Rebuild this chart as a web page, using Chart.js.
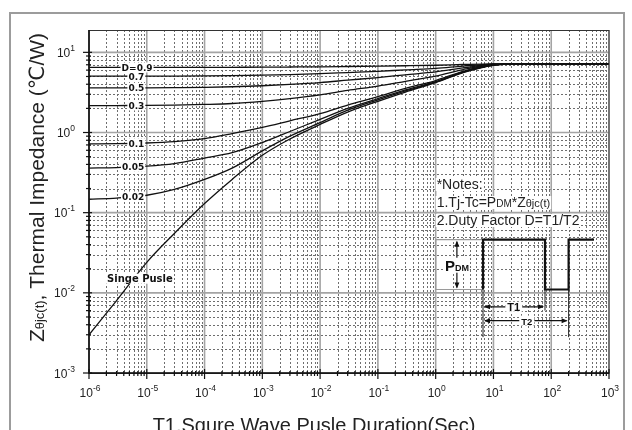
<!DOCTYPE html>
<html>
<head>
<meta charset="utf-8">
<script src="https://cdn.jsdelivr.net/npm/chart.js@4.4.0/dist/chart.umd.min.js"></script>
<style>
  html, body { margin: 0; padding: 0; background: #fff; }
  canvas { display: block; }
</style>
</head>
<body>
<canvas id="chart" width="632" height="430"></canvas>
<script>
// Pulse durations T1 (s)
const pulseTimes = [1e-6, 3e-6, 1e-5, 3e-5, 1e-4, 3e-4, 1e-3, 3e-3, 1e-2, 3e-2, 1e-1, 3e-1, 1, 3, 10, 30, 100, 1000];

// Zθjc(t), one array per duty factor
const zD09    = [6.48, 6.48, 6.48, 6.49, 6.49, 6.51, 6.53, 6.56, 6.60, 6.66, 6.73, 6.80, 6.90, 7.05, 7.18, 7.2, 7.2, 7.2];
const zD07    = [5.04, 5.04, 5.05, 5.06, 5.08, 5.12, 5.19, 5.28, 5.42, 5.60, 5.80, 6.05, 6.30, 6.75, 7.15, 7.2, 7.2, 7.2];
const zD05    = [3.60, 3.60, 3.61, 3.63, 3.66, 3.72, 3.83, 3.98, 4.20, 4.50, 4.85, 5.25, 5.70, 6.40, 7.10, 7.2, 7.2, 7.2];
const zD03    = [2.16, 2.17, 2.18, 2.20, 2.24, 2.30, 2.45, 2.65, 2.95, 3.35, 3.80, 4.35, 5.05, 6.10, 7.05, 7.2, 7.2, 7.2];
const zD01    = [0.72, 0.725, 0.74, 0.77, 0.84, 0.97, 1.16, 1.40, 1.72, 2.20, 2.80, 3.55, 4.45, 5.80, 7.00, 7.2, 7.2, 7.2];
const zD005   = [0.36, 0.365, 0.38, 0.41, 0.48, 0.56, 0.75, 1.03, 1.46, 2.00, 2.65, 3.40, 4.30, 5.70, 6.95, 7.2, 7.2, 7.2];
const zD002   = [0.147, 0.152, 0.165, 0.195, 0.26, 0.36, 0.59, 0.90, 1.33, 1.90, 2.55, 3.30, 4.25, 5.65, 6.95, 7.2, 7.2, 7.2];
const zSingle = [0.003, 0.008, 0.024, 0.055, 0.13, 0.26, 0.52, 0.83, 1.26, 1.80, 2.45, 3.20, 4.20, 5.60, 6.90, 7.2, 7.2, 7.2];

const curves = [zD09, zD07, zD05, zD03, zD01, zD005, zD002, zSingle];
const curveLabels = ['D=0.9', '0.7', '0.5', '0.3', '0.1', '0.05', '0.02', 'Singe Pusle'];
const labelTimes = [6.8e-6, 6.6e-6, 6.6e-6, 6.6e-6, 6.6e-6, 5.8e-6, 5.8e-6, 7.6e-6];

// axis decades (exponents of ten)
const xDecades = [-6, -5, -4, -3, -2, -1, 0, 1, 2, 3];
const yDecades = [-3, -2, -1, 0, 1];

// duty-cycle sketch, in chart units
const waveTimes = [1, 6.6, 78, 200, 550];
const waveTop = 0.046, waveBottom = 0.011;

const SANS = '"Liberation Sans", Arial, "DejaVu Sans", sans-serif';
const BOLD = '"DejaVu Sans", sans-serif';

// value of a curve at time t, log-log interpolated (used to place labels)
function curveAt(arr, t) {
  const lt = Math.log10(t);
  for (let i = 0; i < pulseTimes.length - 1; i++) {
    const a = Math.log10(pulseTimes[i]), b = Math.log10(pulseTimes[i + 1]);
    if (lt >= a && lt <= b) {
      const f = (lt - a) / (b - a);
      return Math.pow(10, Math.log10(arr[i]) + f * (Math.log10(arr[i + 1]) - Math.log10(arr[i])));
    }
  }
  return arr[0];
}

function runsWidth(ctx, runs) {
  let w = 0;
  runs.forEach(r => { ctx.font = r[1]; w += ctx.measureText(r[0]).width; });
  return w;
}

function drawRuns(ctx, runs, x, y, align) {
  const w = runsWidth(ctx, runs);
  let sx = align === 'center' ? x - w / 2 : align === 'right' ? x - w : x;
  runs.forEach(r => {
    ctx.font = r[1];
    ctx.fillText(r[0], sx, y + (r[2] || 0));
    sx += ctx.measureText(r[0]).width;
  });
  return w;
}

function whiteBox(ctx, x, y, w, h) {
  ctx.save();
  ctx.fillStyle = '#fff';
  ctx.fillRect(x, y, w, h);
  ctx.restore();
}

function arrowHead(ctx, x, y, dx, dy) {
  const len = 6, half = 2.5;
  const nx = -dy, ny = dx;
  ctx.beginPath();
  ctx.moveTo(x, y);
  ctx.lineTo(x - dx * len + nx * half, y - dy * len + ny * half);
  ctx.lineTo(x - dx * len - nx * half, y - dy * len - ny * half);
  ctx.closePath();
  ctx.fill();
}

function drawGrid(chart) {
  const { ctx, chartArea: a, scales: { x, y } } = chart;
  ctx.save();
  ctx.lineWidth = 1;
  ctx.strokeStyle = '#6e6e6e';
  ctx.setLineDash([2, 2]);
  xDecades.slice(0, -1).forEach(d => {
    for (let m = 2; m <= 9; m++) {
      const px = Math.round(x.getPixelForValue(m * Math.pow(10, d))) + 0.5;
      ctx.beginPath(); ctx.moveTo(px, a.top); ctx.lineTo(px, a.bottom); ctx.stroke();
    }
  });
  yDecades.forEach(d => {
    for (let m = 2; m <= 9; m++) {
      const v = m * Math.pow(10, d);
      if (v >= y.max) continue;
      const py = Math.round(y.getPixelForValue(v)) + 0.5;
      ctx.beginPath(); ctx.moveTo(a.left, py); ctx.lineTo(a.right, py); ctx.stroke();
    }
  });
  ctx.setLineDash([]);
  ctx.strokeStyle = '#a4a4a4';
  ctx.lineWidth = 1.6;
  xDecades.forEach(d => {
    const px = x.getPixelForValue(Math.pow(10, d));
    ctx.beginPath(); ctx.moveTo(px, a.top); ctx.lineTo(px, a.bottom); ctx.stroke();
  });
  yDecades.forEach(d => {
    const py = y.getPixelForValue(Math.pow(10, d));
    ctx.beginPath(); ctx.moveTo(a.left, py); ctx.lineTo(a.right, py); ctx.stroke();
  });
  ctx.restore();
}

function drawAxes(chart) {
  const { ctx, chartArea: a, scales: { x, y } } = chart;
  ctx.save();
  ctx.strokeStyle = '#333';
  ctx.lineWidth = 1;
  ctx.strokeRect(a.left, a.top + 0.5, a.right - a.left, a.bottom - a.top);
  ctx.strokeStyle = '#111';
  ctx.lineWidth = 1.5;
  ctx.beginPath();
  ctx.moveTo(a.left, a.top); ctx.lineTo(a.left, a.bottom); ctx.lineTo(a.right, a.bottom);
  ctx.stroke();

  // tick marks
  ctx.lineWidth = 1.2;
  xDecades.forEach((d, i) => {
    const px = x.getPixelForValue(Math.pow(10, d));
    ctx.beginPath(); ctx.moveTo(px, a.bottom - 4); ctx.lineTo(px, a.bottom + 6); ctx.stroke();
    if (i === xDecades.length - 1) return;
    for (let m = 2; m <= 9; m++) {
      const mx = x.getPixelForValue(m * Math.pow(10, d));
      ctx.beginPath(); ctx.moveTo(mx, a.bottom - 2); ctx.lineTo(mx, a.bottom + 3); ctx.stroke();
    }
  });
  yDecades.forEach(d => {
    const py = y.getPixelForValue(Math.pow(10, d));
    ctx.beginPath(); ctx.moveTo(a.left - 6, py); ctx.lineTo(a.left + 3, py); ctx.stroke();
    for (let m = 2; m <= 9; m++) {
      const v = m * Math.pow(10, d);
      if (v >= y.max) continue;
      const my = y.getPixelForValue(v);
      ctx.beginPath(); ctx.moveTo(a.left - 3, my); ctx.lineTo(a.left + 2, my); ctx.stroke();
    }
  });

  // tick labels 10^n
  ctx.fillStyle = '#222';
  ctx.textBaseline = 'alphabetic';
  const big = '12px ' + SANS, small = '8.5px ' + SANS;
  xDecades.forEach(d => {
    const px = x.getPixelForValue(Math.pow(10, d));
    drawRuns(ctx, [['10', big], [String(d), small, -6]], px + 1, a.bottom + 24, 'center');
  });
  yDecades.forEach(d => {
    const py = y.getPixelForValue(Math.pow(10, d));
    drawRuns(ctx, [['10', big], [String(d), small, -6]], a.left - 14, py + 4.5, 'right');
  });
  ctx.restore();
}

function drawCurveLabels(chart) {
  const { ctx, scales: { x, y } } = chart;
  ctx.save();
  ctx.textBaseline = 'alphabetic';
  curves.forEach((arr, i) => {
    const t = labelTimes[i];
    const single = i === curves.length - 1;
    const z = single ? 0.015 : curveAt(arr, t);
    const px = x.getPixelForValue(t), py = y.getPixelForValue(z);
    const font = 'bold ' + (single ? '10px ' : '9px ') + BOLD;
    ctx.font = font;
    const w = ctx.measureText(curveLabels[i]).width;
    whiteBox(ctx, px - w / 2 - 1, py - 5, w + 2, 10);
    ctx.fillStyle = '#111';
    ctx.fillText(curveLabels[i], px - w / 2, py + 3.5);
  });
  ctx.restore();
}

function drawNotes(chart) {
  const { ctx, scales: { x } } = chart;
  const left = x.getPixelForValue(1) + 1;
  const f = '14px ' + SANS, s = '10px ' + SANS, s2 = '11px ' + SANS;
  const lines = [
    [['*Notes:', f]],
    [['1.Tj-Tc=P', f], ['DM', s], ['*Z', f], ['\u03b8jc(t)', s2]],
    [['2.Duty Factor D=T1/T2', f]]
  ];
  const baselines = [189, 207, 225];
  ctx.save();
  ctx.textBaseline = 'alphabetic';
  lines.forEach((runs, i) => {
    const w = runsWidth(ctx, runs);
    whiteBox(ctx, left - 1, baselines[i] - 11, w + 2, 13);
    ctx.fillStyle = '#222';
    drawRuns(ctx, runs, left, baselines[i], 'left');
  });
  ctx.restore();
}

function drawPulse(chart) {
  const { ctx, scales: { x, y } } = chart;
  const [x0, xa, xb, xc, xd] = waveTimes.map(t => x.getPixelForValue(t));
  const yt = y.getPixelForValue(waveTop), yb = y.getPixelForValue(waveBottom);
  ctx.save();
  // thin gray outline of the off period
  ctx.strokeStyle = '#9a9a9a';
  ctx.lineWidth = 1.2;
  ctx.beginPath();
  ctx.moveTo(xa, yt); ctx.lineTo(x0, yt); ctx.lineTo(x0, yb); ctx.lineTo(xa, yb);
  ctx.stroke();
  // extension lines
  ctx.strokeStyle = '#222';
  ctx.lineWidth = 1;
  const yLow = y.getPixelForValue(0.0028), yMid = y.getPixelForValue(0.006);
  [[xa, yLow], [xb, yMid], [xc, yLow]].forEach(([px, py]) => {
    ctx.beginPath(); ctx.moveTo(px, yb); ctx.lineTo(px, py); ctx.stroke();
  });
  // the square wave
  ctx.strokeStyle = '#111';
  ctx.lineWidth = 2.2;
  ctx.beginPath();
  ctx.moveTo(xa, yb); ctx.lineTo(xa, yt); ctx.lineTo(xb, yt); ctx.lineTo(xb, yb);
  ctx.lineTo(xc, yb); ctx.lineTo(xc, yt); ctx.lineTo(xd, yt);
  ctx.stroke();

  ctx.fillStyle = '#111';
  ctx.lineWidth = 1.2;
  // PDM arrow
  const xp = x.getPixelForValue(2.33);
  ctx.beginPath(); ctx.moveTo(xp, yt + 2); ctx.lineTo(xp, yb - 2); ctx.stroke();
  arrowHead(ctx, xp, yt + 1, 0, -1);
  arrowHead(ctx, xp, yb - 1, 0, 1);
  // T1 / T2 arrows
  const y1 = y.getPixelForValue(0.0067), y2 = y.getPixelForValue(0.0045);
  ctx.beginPath(); ctx.moveTo(xa + 2, y1); ctx.lineTo(xb - 2, y1); ctx.stroke();
  arrowHead(ctx, xa + 1, y1, -1, 0); arrowHead(ctx, xb - 1, y1, 1, 0);
  ctx.beginPath(); ctx.moveTo(xa + 2, y2); ctx.lineTo(xc - 2, y2); ctx.stroke();
  arrowHead(ctx, xa + 1, y2, -1, 0); arrowHead(ctx, xc - 1, y2, 1, 0);

  // labels
  ctx.textBaseline = 'alphabetic';
  const yPdm = y.getPixelForValue(0.0218);
  const pdm = [['P', 'bold 15px ' + SANS], ['DM', 'bold 9px ' + SANS]];
  const wp = runsWidth(ctx, pdm);
  whiteBox(ctx, xp - wp / 2 - 1, yPdm - 8, wp + 2, 15);
  ctx.fillStyle = '#111';
  drawRuns(ctx, pdm, xp, yPdm + 5.5, 'center');

  const labs = [['T1', 'bold 11px ' + SANS, 22.5, y1], ['T2', 'bold 9.5px ' + SANS, 37.8, y2]];
  labs.forEach(([txt, font, t, py]) => {
    const px = x.getPixelForValue(t);
    ctx.font = font;
    const w = ctx.measureText(txt).width;
    whiteBox(ctx, px - w / 2 - 2, py - 5, w + 4, 10);
    ctx.fillStyle = '#111';
    ctx.fillText(txt, px - w / 2, py + 4);
  });
  ctx.restore();
}

function drawTitles(chart) {
  const { ctx, chartArea: a } = chart;
  ctx.save();
  ctx.fillStyle = '#222';
  ctx.textBaseline = 'alphabetic';
  drawRuns(ctx, [['T1.Squre Wave Pusle Duration(Sec)', '20px ' + SANS]], (a.left + a.right) / 2 - 35, 432, 'center');
  ctx.translate(43.5, 187.5);
  ctx.rotate(-Math.PI / 2);
  drawRuns(ctx, [['Z', '21px ' + SANS], ['\u03b8jc(t)', '13px ' + SANS], [', Thermal Impedance (\u2103/W)', '21px ' + SANS]], 0, 0, 'center');
  ctx.restore();
}

const decor = {
  id: 'decor',
  beforeDraw(chart) {
    const ctx = chart.ctx;
    ctx.save();
    ctx.fillStyle = '#fff';
    ctx.fillRect(0, 0, chart.width, chart.height);
    ctx.strokeStyle = '#9c9c9c';
    ctx.lineWidth = 2;
    ctx.strokeRect(10, 13, 614, 440);
    ctx.restore();
  },
  beforeDatasetsDraw(chart) {
    drawGrid(chart);
  },
  afterDatasetsDraw(chart) {
    drawAxes(chart);
    drawCurveLabels(chart);
    drawNotes(chart);
    drawPulse(chart);
    drawTitles(chart);
  }
};

new Chart(document.getElementById('chart'), {
  type: 'line',
  data: {
    datasets: curves.map((arr, i) => ({
      label: curveLabels[i],
      data: pulseTimes.map((t, j) => ({ x: t, y: arr[j] })),
      borderColor: '#111',
      borderWidth: 1.3,
      pointRadius: 0,
      fill: false,
      cubicInterpolationMode: 'monotone'
    }))
  },
  options: {
    responsive: false,
    animation: false,
    layout: { padding: { left: 89, right: 23, top: 30, bottom: 57 } },
    plugins: { legend: { display: false }, tooltip: { enabled: false } },
    scales: {
      x: {
        type: 'logarithmic', min: 1e-6, max: 1e3,
        grid: { display: false }, border: { display: false },
        ticks: { display: false },
        afterFit(s) { s.height = 0; }
      },
      y: {
        type: 'logarithmic', min: 1e-3, max: 19,
        grid: { display: false }, border: { display: false },
        ticks: { display: false },
        afterFit(s) { s.width = 0; }
      }
    }
  },
  plugins: [decor]
});
</script>
</body>
</html>
